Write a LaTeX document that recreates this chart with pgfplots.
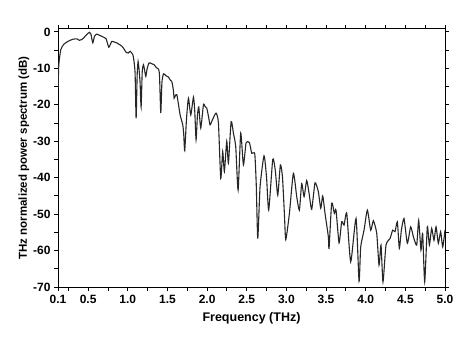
\documentclass[border=0pt]{standalone}
\usepackage{fontspec}
\setmainfont{Liberation Sans}
\usepackage{pgfplots}
\pgfplotsset{compat=1.18}
\begin{document}
\begin{tikzpicture}
\begin{axis}[
  scale only axis, width=387pt, height=258pt,
  xmin=0.12, xmax=5.0, ymin=-70, ymax=0.8,
  xtick={0.12,0.5,1.0,1.5,2.0,2.5,3.0,3.5,4.0,4.5,5.0},
  xticklabels={0.1,0.5,1.0,1.5,2.0,2.5,3.0,3.5,4.0,4.5,5.0},
  minor xtick={0.25,0.75,1.25,1.75,2.25,2.75,3.25,3.75,4.25,4.75},
  ytick={-70,-60,-50,-40,-30,-20,-10,0},
  yticklabels={-70,-60,-50,-40,-30,-20,-10,0},
  minor ytick={-65,-55,-45,-35,-25,-15,-5},
  tick align=outside, tickwidth=4pt, subtickwidth=4pt,
  tick style={black, line width=0.9pt},
  axis line style={line width=1pt},
  tick label style={font=\bfseries\fontsize{12}{14}\selectfont},
  xticklabel style={yshift=-1pt},
  xlabel={\bfseries Frequency (THz)},
  ylabel={\bfseries THz normalized power spectrum (dB)},
  xlabel style={font=\bfseries\fontsize{12.5}{14}\selectfont, yshift=-2pt},
  ylabel style={font=\bfseries\fontsize{11.5}{14}\selectfont, yshift=-3pt},
]
\addplot[black!85, line width=1.1pt, smooth, tension=0.35] coordinates {
(0.122,-15.4) (0.13,-9) (0.155,-4.9) (0.189,-3.5) (0.23,-2.8) (0.273,-2.3) (0.31,-2.0) (0.357,-1.9) (0.39,-2.3) (0.42,-2.1) (0.45,-1.5) (0.483,-0.7) (0.517,-0.1)
(0.535,-0.6) (0.559,-3.0) (0.58,-1.2) (0.609,-0.6) (0.64,-0.9) (0.672,-1.2) (0.70,-1.5) (0.727,-1.9) (0.761,-4.2) (0.798,-2.6) (0.83,-2.8) (0.861,-3.0) (0.89,-3.4) (0.924,-3.9) (0.95,-4.6) (0.979,-5.6) (1.005,-5.8) (1.029,-5.3) (1.05,-5.8) (1.063,-6.2)
(1.075,-7.5) (1.092,-11.3) (1.105,-23.7) (1.118,-12) (1.130,-8.1) (1.145,-11) (1.155,-14) (1.168,-20.6) (1.182,-11) (1.197,-9) (1.212,-10.5) (1.227,-12.2) (1.245,-10) (1.269,-8.5) (1.30,-8.7) (1.332,-9) (1.36,-9.8) (1.387,-10.2) (1.40,-12) (1.416,-22.3) (1.430,-14) (1.450,-11.5) (1.48,-12) (1.513,-12.4) (1.535,-13.2) (1.555,-13.6) (1.575,-16) (1.584,-18.2) (1.60,-17.5) (1.618,-17.2) (1.64,-20) (1.660,-22.8) (1.693,-25.5) (1.705,-28) (1.718,-32.6)
(1.74,-24) (1.765,-18.2) (1.794,-22.8) (1.828,-17.9) (1.845,-22) (1.861,-29.6) (1.878,-23) (1.895,-20.6) (1.920,-26.4) (1.954,-20) (1.975,-20.5) (1.996,-20.9) (2.02,-23.5) (2.038,-25.5) (2.07,-24) (2.113,-22.3) (2.143,-25) (2.172,-40.2) (2.197,-32.8) (2.218,-38.3) (2.248,-30) (2.269,-36) (2.303,-24.6) (2.332,-27.8) (2.361,-31.5) (2.391,-43.4) (2.424,-27.8) (2.458,-36.5) (2.492,-30.4) (2.534,-30.4) (2.563,-33.3) (2.601,-33.5) (2.62,-42) (2.639,-56.7) (2.668,-42.5) (2.718,-34) (2.75,-40) (2.777,-48.9) (2.828,-35) (2.86,-38) (2.891,-44.8) (2.924,-36.5) (2.950,-39.7) (2.975,-50) (2.992,-57) (3.038,-49.8) (3.088,-38.8) (3.130,-45.2) (3.164,-48.9) (3.193,-41.6) (3.223,-45.2) (3.256,-40.8) (3.286,-44.3) (3.319,-48.7) (3.361,-41.4) (3.403,-43.9) (3.433,-48.4) (3.458,-45) (3.487,-49.8) (3.529,-56.2) (3.538,-59.4) (3.571,-47) (3.605,-49.8) (3.626,-48.9) (3.664,-57.9) (3.697,-52.1) (3.727,-53) (3.761,-49.8) (3.811,-63.1) (3.878,-51.2) (3.916,-68.4) (3.937,-59) (3.979,-54.4) (4.021,-48.9) (4.063,-54.4) (4.097,-51.8) (4.139,-55.3) (4.168,-64) (4.193,-58.5) (4.218,-68.6) (4.256,-58.5) (4.307,-56.7) (4.340,-54.4) (4.370,-54.8) (4.399,-52.1) (4.424,-59.4) (4.450,-54.4) (4.483,-51.2) (4.525,-58) (4.567,-53.5) (4.601,-56.2) (4.643,-58.5) (4.668,-51.7) (4.697,-59.9) (4.718,-55.3) (4.744,-68.6) (4.777,-53.5) (4.803,-58.5) (4.832,-53.9) (4.861,-57.2) (4.887,-53.5) (4.916,-58) (4.945,-54.8) (4.971,-59) (5.0,-54.4)
};
\end{axis}
\path ([shift={(-58pt,-58pt)}]current axis.south west) rectangle ([shift={(22pt,29pt)}]current axis.north east);
\end{tikzpicture}
\end{document}
